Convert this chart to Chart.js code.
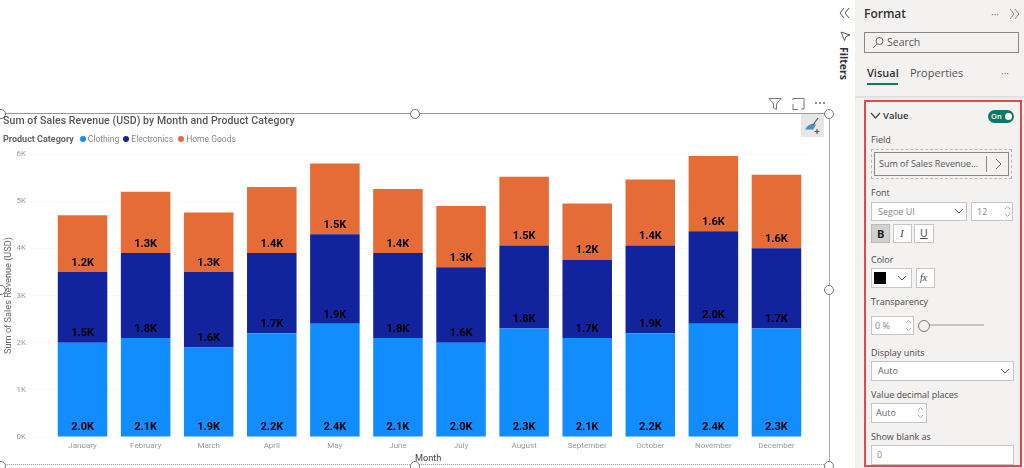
<!DOCTYPE html>
<html>
<head>
<meta charset="utf-8">
<script src="https://cdn.jsdelivr.net/npm/chart.js@4"></script>
<style>
  html, body { margin: 0; padding: 0; background: #fff; }
  body { width: 1024px; height: 468px; overflow: hidden; position: relative; font-family: "Open Sans", sans-serif; }
  canvas { position: absolute; left: 0; top: 0; }
  .t { position: absolute; white-space: nowrap; line-height: 1; color: #4b4a48; font-size: 9px; }
  .box { position: absolute; box-sizing: border-box; background: #fff; border: 1px solid #c8c6c4; }
  .handle { position: absolute; width: 8px; height: 8px; margin: -5px 0 0 -5px; border: 1px solid #777; border-radius: 50%; background: #fff; }
  .ico { position: absolute; fill: none; }
  #title { left: 3px; top: 114px; font: 500 10.5px Roboto, sans-serif; letter-spacing: 0.1px; color: #555; }
  #legend { position: absolute; left: 3px; top: 134px; display: flex; align-items: center; font: 8.5px Roboto, sans-serif; color: #888; white-space: nowrap; }
  #legend b { font-size: 9px; color: #666; margin-right: 6px; }
  #legend i { width: 6px; height: 6px; border-radius: 50%; margin-right: 2px; }
  #pane { position: absolute; left: 855px; top: 0; width: 169px; height: 468px; background: #f3f2f1; }
  #card { position: absolute; left: 864px; top: 100px; width: 158px; height: 367px; box-sizing: border-box; border: 2px solid #e8474a; }
</style>
</head>
<body>
<canvas id="salesChart" width="830" height="468"></canvas>

<!-- visual frame -->
<div style="position:absolute;left:0;top:113px;width:830px;height:352px;box-sizing:border-box;border-top:1px solid #999;border-right:1px solid #aaa;border-bottom:1px dotted #999"></div>
<div class="handle" style="left:1px;top:114px"></div>
<div class="handle" style="left:415px;top:114px"></div>
<div class="handle" style="left:829px;top:114px"></div>
<div class="handle" style="left:1px;top:290px"></div>
<div class="handle" style="left:829px;top:290px"></div>
<div class="handle" style="left:1px;top:466px"></div>
<div class="handle" style="left:415px;top:466px"></div>
<div class="handle" style="left:829px;top:466px"></div>

<div class="t" id="title"></div>
<div id="legend"></div>
<div class="t" id="xTitle" style="left:415px;top:452px;font:400 9.2px Roboto,sans-serif;color:#444"></div>

<!-- visual header icons -->
<svg class="ico" style="left:768px;top:97px" width="60" height="14" stroke="#777">
  <path d="M1 1.5h12L8.5 7v5.5L5.5 11V7z"/>
  <path d="M25 3V1.5h11V12h-3M25 7v5.5h5"/>
  <circle cx="48" cy="6" r=".7" fill="#777"/><circle cx="52" cy="6" r=".7" fill="#777"/><circle cx="56" cy="6" r=".7" fill="#777"/>
</svg>
<div style="position:absolute;left:801px;top:114px;width:23px;height:23px;background:#e6e6e6"></div>
<svg class="ico" style="left:804px;top:117px" width="18" height="18" stroke-width="1.2">
  <path d="M2 12c3-5 7-5 9-4l-2 4z" fill="#4a90c2" stroke="#4a90c2"/>
  <path d="M9 8l5-7M13 12v5M10.5 14.500h5" stroke="#555"/>
</svg>

<!-- filters strip -->
<svg class="ico" style="left:839px;top:7px" width="11" height="12" stroke="#555"><path d="M5 1L1 6l4 5M10 1L6 6l4 5"/></svg>
<svg class="ico" style="left:840px;top:30px" width="11" height="11" stroke="#555"><path d="M1 2l9 3-4 1.500-1.500 4z"/></svg>
<div class="t" id="filters" style="left:838px;top:47px;writing-mode:vertical-rl;font-size:10.500px;font-weight:700;color:#333">Filters</div>

<!-- format pane -->
<div id="pane"></div>
<div style="position:absolute;left:855px;top:96px;width:169px;height:2px;background:#e3e1df"></div>
<div id="card"></div>
<div class="t" style="left:864px;top:8px;font-size:12px;font-weight:600;color:#333">Format</div>
<div class="t" style="left:991px;top:9px;font-size:10px;color:#777">···</div>
<svg class="ico" style="left:1009px;top:8px" width="11" height="12" stroke="#888"><path d="M1 1l4 5-4 5M6 1l4 5-4 5"/></svg>
<div class="box" style="left:864px;top:32px;width:155px;height:21px;background:#f3f2f1;border-color:#8a8886"></div>
<svg class="ico" style="left:872px;top:36px" width="12" height="13" stroke="#666"><circle cx="7.500" cy="5" r="3.500"/><path d="M5 8l-4 4"/></svg>
<div class="t" style="left:887px;top:37px;font-size:10.500px;color:#555">Search</div>
<div class="t" style="left:867px;top:67px;font-size:11px;font-weight:600;color:#333">Visual</div>
<div style="position:absolute;left:867px;top:83px;width:31px;height:2px;background:#117865"></div>
<div class="t" style="left:910px;top:67px;font-size:11px;color:#555">Properties</div>
<div class="t" style="left:1001px;top:68px;font-size:10px;color:#777">···</div>

<svg class="ico" style="left:870px;top:112px" width="11" height="8" stroke="#444" stroke-width="1.200"><path d="M1 1l4.500 5L10 1"/></svg>
<div class="t" style="left:883px;top:111px;font-size:9.500px;font-weight:600;color:#333">Value</div>
<div style="position:absolute;left:988px;top:110px;width:26px;height:13px;border-radius:7px;background:#117865"></div>
<div class="t" style="left:991px;top:113px;font-size:7.500px;font-weight:600;color:#fff">On</div>
<div style="position:absolute;left:1005px;top:113px;width:7px;height:7px;border-radius:50%;background:#fff"></div>

<div class="t" style="left:871px;top:135px">Field</div>
<div class="box" style="left:871px;top:149px;width:141px;height:30px;background:none;border:1px dashed #bbb"></div>
<div class="box" style="left:874px;top:152px;width:135px;height:24px;background:#f3f2f1;border-color:#8a8886"></div>
<div class="t" style="left:879px;top:159px;color:#555">Sum of Sales Revenue...</div>
<div style="position:absolute;left:986px;top:156px;width:1px;height:16px;background:#888"></div>
<svg class="ico" style="left:995px;top:158px" width="8" height="12" stroke="#666"><path d="M1 1l5 5-5 5"/></svg>

<div class="t" style="left:871px;top:188px">Font</div>
<div class="box" style="left:871px;top:202px;width:96px;height:19px"></div>
<div class="t" style="left:878px;top:207px;color:#8a8886">Segoe UI</div>
<svg class="ico" style="left:954px;top:208px" width="10" height="7" stroke="#555"><path d="M1 1l4 4 4-4"/></svg>
<div class="box" style="left:971px;top:202px;width:42px;height:19px"></div>
<div class="t" style="left:977px;top:207px;color:#8a8886">12</div>
<svg class="ico" style="left:1004px;top:205px" width="7" height="13" stroke="#aaa"><path d="M1 4l2.500-2.500L6 4M1 9l2.500 2.500L6 9"/></svg>
<div class="box" style="left:871px;top:224px;width:19px;height:19px;background:#d2d0ce;border-color:#bbb"></div>
<div class="t" style="left:877px;top:228px;font-size:11px;font-weight:700;color:#222">B</div>
<div class="box" style="left:893px;top:224px;width:19px;height:19px"></div>
<div class="t" style="left:900px;top:228px;font-size:11px;font-style:italic;font-family:'Liberation Serif',serif;color:#444">I</div>
<div class="box" style="left:914px;top:224px;width:20px;height:19px"></div>
<div class="t" style="left:920px;top:228px;font-size:10.500px;text-decoration:underline;color:#444">U</div>

<div class="t" style="left:871px;top:255px">Color</div>
<div class="box" style="left:871px;top:268px;width:41px;height:20px"></div>
<div style="position:absolute;left:874px;top:272px;width:12px;height:12px;background:#000"></div>
<svg class="ico" style="left:897px;top:275px" width="10" height="7" stroke="#555"><path d="M1 1l4 4 4-4"/></svg>
<div class="box" style="left:916px;top:268px;width:19px;height:20px"></div>
<div class="t" style="left:920px;top:273px;font-size:10px;font-style:italic;font-family:'Liberation Serif',serif;color:#444">fx</div>

<div class="t" style="left:871px;top:297px">Transparency</div>
<div class="box" style="left:871px;top:316px;width:43px;height:19px"></div>
<div class="t" style="left:875px;top:321px;color:#8a8886">0 %</div>
<svg class="ico" style="left:905px;top:319px" width="7" height="13" stroke="#aaa"><path d="M1 4l2.500-2.500L6 4M1 9l2.500 2.500L6 9"/></svg>
<div style="position:absolute;left:923px;top:324px;width:61px;height:2px;background:#c8c6c4"></div>
<div style="position:absolute;left:918px;top:320px;width:10px;height:10px;border:1px solid #777;border-radius:50%;background:#f3f2f1"></div>

<div class="t" style="left:871px;top:348px">Display units</div>
<div class="box" style="left:871px;top:361px;width:143px;height:20px"></div>
<div class="t" style="left:878px;top:366px;color:#666">Auto</div>
<svg class="ico" style="left:1000px;top:368px" width="10" height="7" stroke="#555"><path d="M1 1l4 4 4-4"/></svg>

<div class="t" style="left:871px;top:390px">Value decimal places</div>
<div class="box" style="left:871px;top:403px;width:56px;height:20px"></div>
<div class="t" style="left:876px;top:408px;color:#666">Auto</div>
<svg class="ico" style="left:917px;top:406px" width="7" height="13" stroke="#aaa"><path d="M1 4l2.500-2.500L6 4M1 9l2.500 2.500L6 9"/></svg>

<div class="t" style="left:871px;top:432px">Show blank as</div>
<div class="box" style="left:871px;top:445px;width:143px;height:20px"></div>
<div class="t" style="left:877px;top:450px;color:#8a8886">0</div>

<script>
// Sales data
const months = ['January', 'February', 'March', 'April', 'May', 'June', 'July', 'August', 'September', 'October', 'November', 'December'];
const clothing = [2000, 2100, 1900, 2200, 2400, 2100, 2000, 2300, 2100, 2200, 2400, 2300];
const electronics = [1500, 1800, 1600, 1700, 1900, 1800, 1600, 1760, 1660, 1860, 1960, 1700];
const homeGoods = [1200, 1300, 1260, 1400, 1500, 1360, 1300, 1460, 1190, 1400, 1600, 1560];
const seriesNames = ['Clothing', 'Electronics', 'Home Goods'];
const seriesColors = ['#118DFF', '#12239E', '#E66C37'];
const chartTitle = 'Sum of Sales Revenue (USD) by Month and Product Category';
const legendTitle = 'Product Category';
const xAxisTitle = 'Month';
const yAxisTitle = 'Sum of Sales Revenue (USD)';

document.getElementById('title').textContent = chartTitle;
document.getElementById('xTitle').textContent = xAxisTitle;

// Legend row, Power BI style with the field name in front
const legendEl = document.getElementById('legend');
legendEl.innerHTML = '<b>' + legendTitle + '</b>' + seriesNames.map((name, i) =>
  '<i style="background:' + seriesColors[i] + '"></i><span style="margin-right:' + (4 + i) + 'px">' + name + '</span>').join('');

// Value labels sit just above the base of each segment
const valueLabels = {
  id: 'valueLabels',
  afterDatasetsDraw(chart) {
    const ctx = chart.ctx;
    ctx.save();
    ctx.font = '700 11px Roboto, sans-serif';
    ctx.fillStyle = '#000';
    ctx.textAlign = 'center';
    ctx.textBaseline = 'middle';
    chart.data.datasets.forEach((ds, i) => {
      chart.getDatasetMeta(i).data.forEach((bar, j) => {
        ctx.fillText((ds.data[j] / 1000).toFixed(1) + 'K', bar.x, bar.base - 9);
      });
    });
    ctx.restore();
  }
};

new Chart(document.getElementById('salesChart'), {
  type: 'bar',
  data: {
    labels: months,
    datasets: [clothing, electronics, homeGoods].map((values, i) => ({
      label: seriesNames[i],
      data: values,
      backgroundColor: seriesColors[i],
      barPercentage: 0.785,
      categoryPercentage: 1,
    }))
  },
  options: {
    responsive: false,
    animation: false,
    layout: { padding: { left: 3, right: 22, top: 154, bottom: 5 } },
    plugins: {
      legend: { display: false },
      tooltip: { enabled: false },
    },
    scales: {
      x: {
        stacked: true,
        afterFit: (scale) => { scale.height = 26; },
        grid: { display: false, drawTicks: false },
        border: { display: false },
        ticks: { color: '#999', font: { family: 'Roboto', size: 8 }, padding: 4, maxRotation: 0, autoSkip: false },
      },
      y: {
        stacked: true,
        min: 0,
        max: 6000,
        afterFit: (scale) => { scale.width = 48; },
        grid: { color: '#f8f8f8', tickLength: 21 },
        border: { display: false },
        title: { display: true, text: yAxisTitle, color: '#666', font: { family: 'Roboto', size: 9.2 }, padding: 0 },
        ticks: {
          stepSize: 1000,
          color: '#999',
          font: { family: 'Roboto', size: 8 },
          padding: 4,
          callback: (value) => (value / 1000) + 'K',
        },
      }
    }
  },
  plugins: [valueLabels]
});
</script>
</body>
</html>
